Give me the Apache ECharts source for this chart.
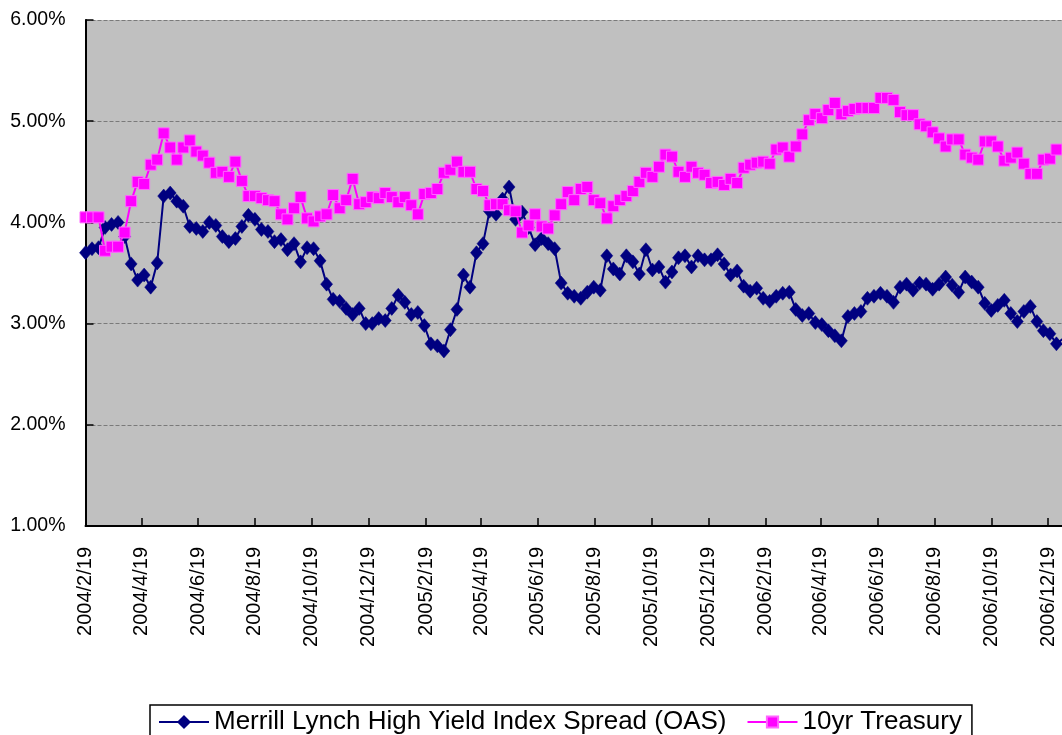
<!DOCTYPE html>
<html>
<head>
<meta charset="utf-8">
<script src="https://cdn.jsdelivr.net/npm/echarts@6/dist/echarts.min.js"></script>
<style>
  html, body { margin: 0; padding: 0; background: #ffffff; }
  #chart { width: 1062px; height: 735px; }
</style>
</head>
<body>
<div id="chart"></div>
<script>
// Weekly observations starting 2004/2/19
const firstDate = [2004, 2, 19];
const stepDays = 7;
const axisEndDate = [2007, 1, 3];

const tickLabels = ['2004/2/19','2004/4/19','2004/6/19','2004/8/19','2004/10/19','2004/12/19',
  '2005/2/19','2005/4/19','2005/6/19','2005/8/19','2005/10/19','2005/12/19',
  '2006/2/19','2006/4/19','2006/6/19','2006/8/19','2006/10/19','2006/12/19'];

const yTicks = [1, 2, 3, 4, 5, 6];

const seriesNames = ['Merrill Lynch High Yield Index Spread (OAS)', '10yr Treasury'];

const oasSpread = [
  3.70,3.74,3.75,3.95,3.98,4.00,3.86,3.59,3.43,3.48,
  3.36,3.60,4.26,4.29,4.21,4.16,3.96,3.94,3.91,4.00,
  3.97,3.86,3.81,3.84,3.96,4.07,4.03,3.93,3.91,3.81,
  3.83,3.73,3.79,3.61,3.75,3.74,3.62,3.39,3.24,3.22,
  3.15,3.09,3.15,3.00,3.00,3.05,3.03,3.15,3.28,3.21,
  3.09,3.11,2.98,2.80,2.78,2.73,2.94,3.14,3.48,3.36,
  3.70,3.79,4.11,4.08,4.23,4.35,4.03,4.10,3.95,3.78,
  3.84,3.79,3.74,3.40,3.30,3.27,3.25,3.31,3.36,3.33,
  3.67,3.54,3.49,3.67,3.61,3.49,3.73,3.53,3.56,3.41,
  3.51,3.65,3.67,3.56,3.67,3.63,3.63,3.68,3.59,3.48,
  3.52,3.37,3.32,3.35,3.25,3.22,3.27,3.30,3.31,3.14,
  3.08,3.10,3.01,2.99,2.93,2.88,2.83,3.07,3.10,3.12,
  3.25,3.27,3.30,3.27,3.21,3.36,3.39,3.33,3.40,3.39,
  3.34,3.39,3.46,3.38,3.31,3.46,3.41,3.36,3.20,3.13,
  3.18,3.23,3.10,3.02,3.12,3.17,3.02,2.93,2.90,2.80,
  2.85
];

const treasury10y = [
  4.05,4.05,4.05,3.72,3.76,3.76,3.90,4.21,4.40,4.38,
  4.57,4.62,4.88,4.74,4.62,4.74,4.81,4.70,4.66,4.59,
  4.49,4.50,4.45,4.60,4.41,4.26,4.26,4.24,4.22,4.21,
  4.08,4.03,4.14,4.25,4.04,4.01,4.06,4.08,4.27,4.14,
  4.22,4.43,4.18,4.20,4.25,4.24,4.29,4.25,4.20,4.25,
  4.17,4.08,4.28,4.29,4.33,4.49,4.52,4.60,4.50,4.50,
  4.33,4.31,4.17,4.18,4.18,4.12,4.11,3.90,3.97,4.08,
  3.96,3.94,4.07,4.18,4.30,4.22,4.33,4.35,4.22,4.19,
  4.04,4.16,4.22,4.26,4.31,4.40,4.49,4.45,4.55,4.67,
  4.65,4.50,4.45,4.55,4.49,4.47,4.39,4.40,4.37,4.43,
  4.39,4.54,4.57,4.59,4.60,4.58,4.72,4.74,4.65,4.75,
  4.87,5.01,5.07,5.03,5.11,5.18,5.07,5.10,5.12,5.13,
  5.13,5.13,5.23,5.23,5.21,5.09,5.06,5.06,4.97,4.95,
  4.89,4.83,4.75,4.82,4.82,4.67,4.64,4.62,4.80,4.80,
  4.75,4.61,4.64,4.69,4.58,4.48,4.48,4.62,4.63,4.72,
  4.72
];

function ts(y, m, d) { return new Date(y, m - 1, d).getTime(); }
function parseLabel(s) { const p = s.split('/').map(Number); return ts(p[0], p[1], p[2]); }
function weekDate(i) { return ts(firstDate[0], firstDate[1], firstDate[2] + stepDays * i); }

const tickValues = tickLabels.map(parseLabel);
const oasData = oasSpread.map((v, i) => [weekDate(i), v]);
const tsyData = treasury10y.map((v, i) => [weekDate(i), v]);

const FONT = "'Liberation Sans', Arial, sans-serif";

const chart = echarts.init(document.getElementById('chart'), null, { renderer: 'canvas' });
chart.setOption({
  animation: false,
  backgroundColor: '#ffffff',
  textStyle: { fontFamily: FONT },
  grid: {
    left: 85.5, top: 20, right: 0, height: 506,
    show: true, backgroundColor: '#c0c0c0', borderWidth: 0,
    containLabel: false
  },
  xAxis: {
    type: 'value',
    min: tickValues[0],
    max: ts(axisEndDate[0], axisEndDate[1], axisEndDate[2]),
    axisLine: { show: true, onZero: false, lineStyle: { color: '#000', width: 2 } },
    axisTick: { show: true, inside: true, length: 8, customValues: tickValues, lineStyle: { color: '#000', width: 1.5 } },
    axisLabel: {
      show: true, rotate: 90, margin: 21, customValues: tickValues,
      fontSize: 20, color: '#000', fontFamily: FONT,
      formatter: function (v) {
        const d = new Date(v);
        return d.getFullYear() + '/' + (d.getMonth() + 1) + '/' + d.getDate();
      }
    },
    splitLine: { show: false }
  },
  yAxis: {
    type: 'value',
    min: yTicks[0], max: yTicks[yTicks.length - 1], interval: 1,
    axisLine: { show: true, onZero: false, lineStyle: { color: '#000', width: 2 } },
    axisTick: { show: true, inside: true, length: 8, lineStyle: { color: '#000', width: 1.5 } },
    axisLabel: {
      margin: 20, fontSize: 19.5, color: '#000', fontFamily: FONT,
      formatter: v => v.toFixed(2) + '%'
    },
    splitLine: { show: true, lineStyle: { color: '#7a7a7a', width: 1, type: [4, 2] } }
  },
  legend: {
    show: true,
    left: 150, top: 705,
    orient: 'horizontal',
    itemWidth: 50, itemHeight: 14, itemGap: 20,
    borderColor: '#000', borderWidth: 1.5,
    padding: [4, 10, 40, 8],
    backgroundColor: '#fff',
    textStyle: { fontSize: 26, color: '#000', fontFamily: FONT },
    data: seriesNames
  },
  series: [
    {
      name: seriesNames[0],
      type: 'line',
      data: oasData,
      symbol: 'diamond', symbolSize: [12, 14],
      showSymbol: true, showAllSymbol: true,
      lineStyle: { color: '#000080', width: 2 },
      itemStyle: { color: '#000080', borderColor: '#000080', borderWidth: 0.5 },
      z: 2
    },
    {
      name: seriesNames[1],
      type: 'line',
      data: tsyData,
      symbol: 'rect', symbolSize: 11,
      showSymbol: true, showAllSymbol: true,
      lineStyle: { color: '#ff00ff', width: 2 },
      itemStyle: { color: '#ff00ff', borderColor: '#ff66ff', borderWidth: 1 },
      z: 3
    }
  ]
});
</script>
</body>
</html>
